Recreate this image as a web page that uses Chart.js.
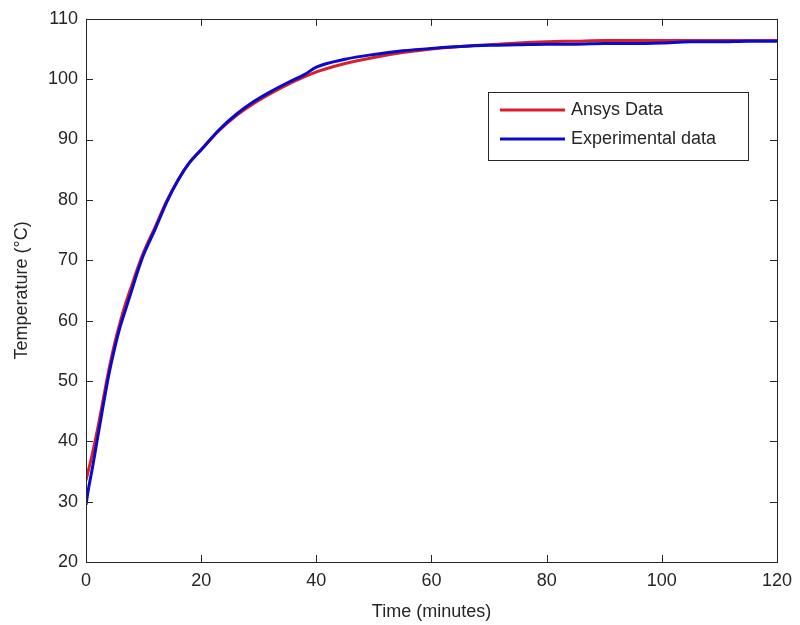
<!DOCTYPE html>
<html>
<head>
<meta charset="utf-8">
<script src="https://cdn.jsdelivr.net/npm/chart.js@4/dist/chart.umd.min.js"></script>
<style>
  html, body { margin: 0; padding: 0; background: #fff; }
  #box { width: 800px; height: 625px; }
</style>
</head>
<body>
<div id="box"><canvas id="grafico"></canvas></div>
<script>
// tempo (min) e temperaturas
const tempoExp = [0, 0.5, 1, 1.5, 2, 3, 4, 5, 6, 7, 8, 9, 10, 12, 14, 16, 18, 20, 23, 26, 29, 32, 35, 38, 40, 45, 50, 55, 60, 65, 70, 75, 80, 85, 90, 95, 100, 105, 110, 115, 120];
const tempExp = [29.5, 32.5, 35.0, 37.7, 40.5, 46.0, 51.2, 55.5, 59.2, 62.2, 65.2, 68.2, 70.9, 75.1, 79.6, 83.3, 86.2, 88.3, 91.5, 94.1, 96.2, 97.9, 99.4, 100.8, 102.0, 103.3, 104.1, 104.7, 105.1, 105.4, 105.6, 105.7, 105.8, 105.8, 105.9, 105.9, 106.0, 106.2, 106.2, 106.3, 106.3];

const tempoAnsys = [0, 0.5, 1, 2, 3, 4, 5, 6, 7, 8, 9, 10, 12, 14, 16, 18, 20, 23, 26, 29, 32, 35, 38, 40, 45, 50, 55, 60, 65, 70, 75, 80, 85, 90, 95, 100, 110, 120];
const tempAnsys = [33.5, 35.5, 37.5, 42.0, 47.0, 52.0, 56.3, 60.0, 63.2, 66.0, 68.8, 71.3, 75.5, 79.8, 83.3, 86.2, 88.3, 91.4, 93.9, 95.9, 97.6, 99.1, 100.4, 101.2, 102.6, 103.6, 104.4, 105.0, 105.4, 105.7, 106.0, 106.2, 106.3, 106.4, 106.4, 106.4, 106.4, 106.4];

const serieNomes = ['Ansys Data', 'Experimental data'];
const serieCores = ['#d8202c', '#0a0ac8'];

const fonte = "'Liberation Sans', Arial, sans-serif";
const corEixo = '#262626';

function pares(xs, ys) {
    return xs.map((x, i) => ({ x: x, y: ys[i] }));
}

// moldura estilo MATLAB com marcas para dentro e legenda interna
const molduraPlugin = {
    id: 'moldura',
    afterDraw(chart) {
        const ctx = chart.ctx;
        const a = chart.chartArea;
        const sx = chart.scales.x;
        const sy = chart.scales.y;
        const len = 7;
        ctx.save();
        ctx.strokeStyle = corEixo;
        ctx.lineWidth = 1;
        ctx.beginPath();
        sx.ticks.forEach(t => {
            const px = Math.round(sx.getPixelForValue(t.value)) + 0.5;
            ctx.moveTo(px, a.bottom); ctx.lineTo(px, a.bottom - len);
            ctx.moveTo(px, a.top); ctx.lineTo(px, a.top + len);
        });
        sy.ticks.forEach(t => {
            const py = Math.round(sy.getPixelForValue(t.value)) + 0.5;
            ctx.moveTo(a.left, py); ctx.lineTo(a.left + len, py);
            ctx.moveTo(a.right, py); ctx.lineTo(a.right - len, py);
        });
        ctx.stroke();
        ctx.strokeRect(Math.round(a.left) + 0.5, Math.round(a.top) + 0.5,
            Math.round(a.right - a.left), Math.round(a.bottom - a.top));

        // legenda
        const lx = 488, ly = 92, lw = 260, lh = 68;
        ctx.fillStyle = '#fff';
        ctx.fillRect(lx, ly, lw, lh);
        ctx.strokeRect(lx + 0.5, ly + 0.5, lw, lh);
        ctx.font = '18px ' + fonte;
        ctx.textBaseline = 'middle';
        ctx.textAlign = 'left';
        serieNomes.forEach((nome, i) => {
            const y = ly + 18 + i * 29;
            ctx.strokeStyle = serieCores[i];
            ctx.lineWidth = 3;
            ctx.beginPath();
            ctx.moveTo(lx + 12, y); ctx.lineTo(lx + 77, y);
            ctx.stroke();
            ctx.fillStyle = corEixo;
            ctx.fillText(nome, lx + 83, y);
        });
        ctx.restore();
    }
};

const ctx = document.getElementById('grafico').getContext('2d');

new Chart(ctx, {
    type: 'line',
    data: {
        datasets: [{
            label: serieNomes[0],
            data: pares(tempoAnsys, tempAnsys),
            borderColor: serieCores[0],
            borderWidth: 3,
            pointRadius: 0,
            cubicInterpolationMode: 'monotone',
            order: 1
        }, {
            label: serieNomes[1],
            data: pares(tempoExp, tempExp),
            borderColor: serieCores[1],
            borderWidth: 3,
            pointRadius: 0,
            cubicInterpolationMode: 'monotone',
            order: 0
        }]
    },
    options: {
        responsive: true,
        maintainAspectRatio: false,
        animation: false,
        layout: { padding: { left: 0, top: 15, right: 19, bottom: 0 } },
        plugins: {
            legend: { display: false },
            tooltip: { enabled: false }
        },
        scales: {
            x: {
                type: 'linear',
                min: 0,
                max: 120,
                afterFit(scale) { scale.height = 63; },
                grid: { display: false, drawTicks: false },
                border: { display: false },
                ticks: {
                    stepSize: 20,
                    padding: 8,
                    maxRotation: 0,
                    color: corEixo,
                    font: { family: fonte, size: 18 }
                },
                title: {
                    display: true,
                    text: 'Time (minutes)',
                    color: corEixo,
                    padding: { top: 0, bottom: 2 },
                    font: { family: fonte, size: 18, lineHeight: 1.2 }
                }
            },
            y: {
                min: 20,
                max: 110,
                afterFit(scale) { scale.width = 86; },
                grid: { display: false, drawTicks: false },
                border: { display: false },
                ticks: {
                    stepSize: 10,
                    padding: 8,
                    color: corEixo,
                    font: { family: fonte, size: 18 }
                },
                title: {
                    display: true,
                    text: 'Temperature (°C)',
                    color: corEixo,
                    padding: { top: 11, bottom: 0 },
                    font: { family: fonte, size: 18, lineHeight: 1.2 }
                }
            }
        }
    },
    plugins: [molduraPlugin]
});
</script>
</body>
</html>
